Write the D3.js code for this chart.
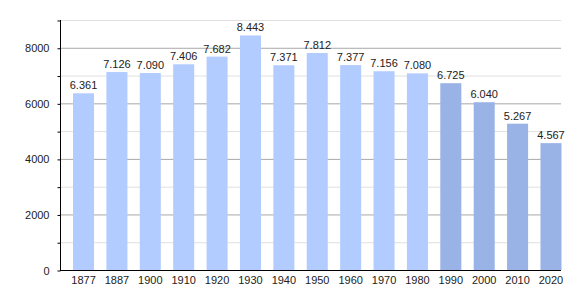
<!DOCTYPE html>
<html>
<head>
<meta charset="utf-8">
<script src="https://cdn.jsdelivr.net/npm/d3@7"></script>
<style>
  body { margin: 0; background: #fff; }
  text { font-family: "Liberation Sans", Arial, sans-serif; font-size: 11px; fill: #222; }
</style>
</head>
<body>
<div id="chart"></div>
<script>
// population per census year
var years = ["1877", "1887", "1900", "1910", "1920", "1930", "1940", "1950", "1960", "1970", "1980", "1990", "2000", "2010", "2020"];
var population = [6361, 7126, 7090, 7406, 7682, 8443, 7371, 7812, 7377, 7156, 7080, 6725, 6040, 5267, 4567];
var recent = [false, false, false, false, false, false, false, false, false, false, false, true, true, true, true];
var majorTicks = [0, 2000, 4000, 6000, 8000];
var minorTicks = [1000, 3000, 5000, 7000, 9000];

var data = years.map(function (y, i) {
    return {year: y, value: population[i], recent: recent[i]};
});

var width = 580, height = 300;
var svg = d3.select("#chart").append("svg")
    .attr("width", width)
    .attr("height", height);

var x = d3.scaleBand()
    .domain(years)
    .range([73, 561.5])
    .paddingInner(0.37)
    .paddingOuter(0);

var y = d3.scaleLinear()
    .domain([0, 9000])
    .range([270, 20]);

var fmt = function (v) { return d3.format(",")(v).replace(",", "."); };

// gridlines
svg.selectAll(".minor").data(minorTicks).enter().append("line")
    .attr("x1", 60).attr("x2", 561)
    .attr("y1", function (d) { return y(d) + 0.5; })
    .attr("y2", function (d) { return y(d) + 0.5; })
    .attr("stroke", "#e0e0e0");

svg.selectAll(".major").data(majorTicks.slice(1)).enter().append("line")
    .attr("x1", 60).attr("x2", 561)
    .attr("y1", function (d) { return y(d) + 0.5; })
    .attr("y2", function (d) { return y(d) + 0.5; })
    .attr("stroke", "#a8a8a8");

// bars
svg.selectAll(".bar").data(data).enter().append("rect")
    .attr("x", function (d) { return x(d.year); })
    .attr("width", x.bandwidth())
    .attr("y", function (d) { return y(d.value); })
    .attr("height", function (d) { return y(0) - y(d.value); })
    .attr("fill", function (d) { return d.recent ? "#99b3e6" : "#b3ccff"; });

// value labels
svg.selectAll(".val").data(data).enter().append("text")
    .attr("x", function (d) { return x(d.year) + x.bandwidth() / 2; })
    .attr("y", function (d) { return y(d.value) - 4; })
    .attr("text-anchor", "middle")
    .text(function (d) { return fmt(d.value); });

// y axis
var yAxis = d3.axisLeft(y)
    .tickValues(majorTicks.concat(minorTicks))
    .tickSize(3)
    .tickPadding(8)
    .tickFormat(function (d) { return majorTicks.indexOf(d) >= 0 ? d : ""; });

var gy = svg.append("g")
    .attr("transform", "translate(60.5,0.5)")
    .call(yAxis);
gy.select(".domain").attr("stroke", "#000").attr("d", "M0," + (y(9000) - 0.5) + "V" + (y(0)));
gy.selectAll(".tick line").attr("stroke", "#000");
gy.selectAll("text").style("font-family", "Liberation Sans, Arial, sans-serif").style("font-size", "11px").attr("fill", "#222");

// x axis
var xAxis = d3.axisBottom(x).tickSize(0).tickPadding(6);
var gx = svg.append("g")
    .attr("transform", "translate(0,270.5)")
    .call(xAxis);
gx.select(".domain").attr("stroke", "#000").attr("d", "M60,0H561");
gx.selectAll("text").style("font-family", "Liberation Sans, Arial, sans-serif").style("font-size", "11px").attr("fill", "#222");
</script>
</body>
</html>
